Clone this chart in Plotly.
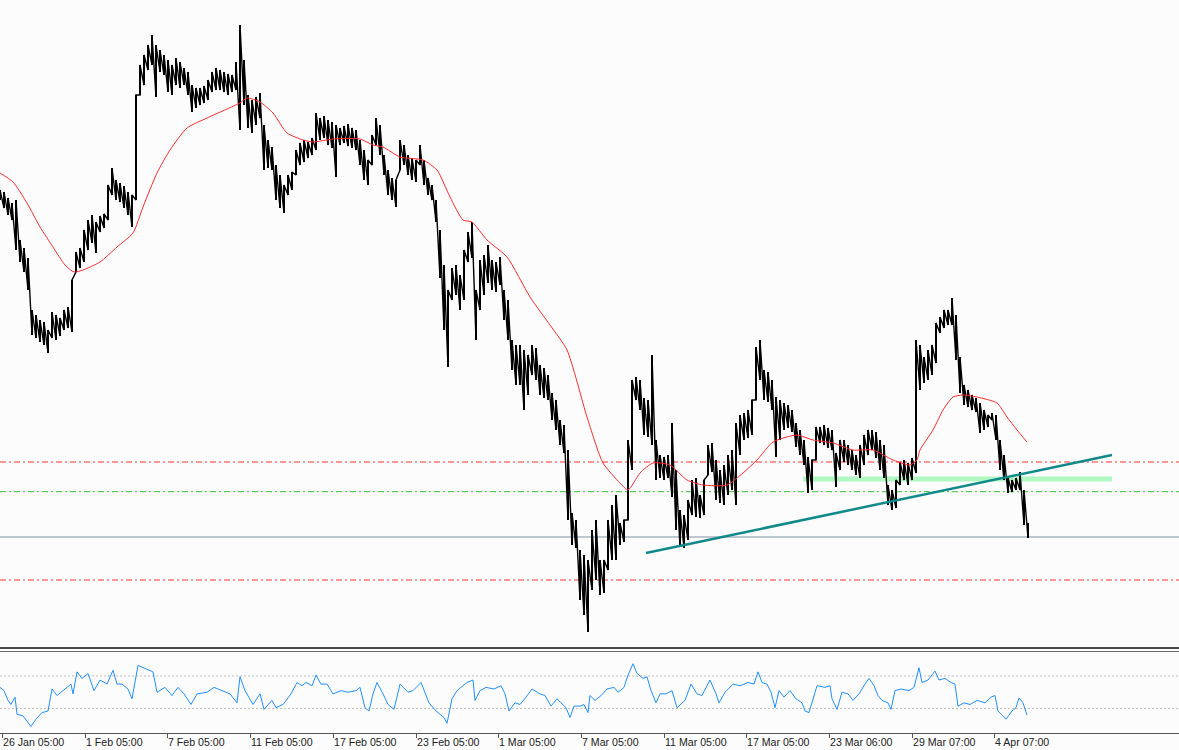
import plotly.graph_objects as go

# ---------------- data ----------------
tick_pos = [2, 85, 167, 250, 333, 416, 498, 581, 664, 746, 829, 912, 994]
tick_labels = ["26 Jan 05:00", "1 Feb 05:00", "7 Feb 05:00", "11 Feb 05:00",
               "17 Feb 05:00", "23 Feb 05:00", "1 Mar 05:00", "7 Mar 05:00",
               "11 Mar 05:00", "17 Mar 05:00", "23 Mar 06:00", "29 Mar 07:00",
               "4 Apr 07:00"]

highs = [810, 808, 802, 797, 800, 760, 752, 742, 690, 685, 680, 678, 670, 688, 685, 682, 690, 693, 720, 748,
         752, 770, 780, 785, 778, 784, 786, 815, 832, 820, 817, 814, 808, 805, 905, 935, 945, 955, 965, 955,
         950, 945, 940, 935, 942, 938, 932, 928, 915, 912, 912, 914, 920, 928, 932, 930, 928, 926, 925, 938,
         975, 940, 905, 900, 903, 907, 875, 860, 853, 835, 825, 815, 825, 828, 850, 857, 860, 858, 862, 887,
         882, 884, 880, 878, 875, 872, 874, 876, 872, 870, 860, 850, 840, 865, 882, 875, 845, 830, 822, 820,
         860, 855, 845, 842, 840, 855, 840, 822, 815, 800, 770, 735, 710, 732, 735, 725, 750, 768, 778, 710,
         740, 745, 755, 740, 738, 743, 710, 700, 660, 655, 655, 650, 645, 655, 652, 635, 632, 625, 607, 600,
         580, 575, 550, 487, 480, 450, 445, 440, 470, 480, 440, 440, 480, 495, 505, 477, 480, 560, 620, 623,
         620, 602, 600, 645, 560, 545, 543, 545, 577, 530, 490, 485, 500, 520, 522, 505, 520, 555, 557, 540,
         530, 535, 545, 550, 577, 585, 587, 590, 600, 653, 660, 630, 628, 620, 603, 600, 597, 595, 590, 577,
         570, 560, 543, 540, 573, 573, 575, 572, 570, 547, 560, 560, 555, 550, 545, 555, 565, 570, 570, 568,
         560, 555, 515, 510, 520, 538, 540, 537, 542, 660, 655, 643, 650, 655, 677, 683, 690, 690, 702, 685,
         643, 615, 610, 605, 602, 597, 590, 585, 587, 585, 560, 545, 522, 520, 522, 528, 510, 477]
lows = [800, 792, 785, 780, 750, 738, 728, 710, 665, 662, 658, 655, 647, 662, 660, 664, 670, 672, 668, 728,
        732, 738, 750, 757, 747, 768, 772, 780, 805, 800, 798, 792, 785, 773, 800, 905, 915, 930, 935, 903,
        928, 925, 908, 905, 915, 912, 915, 905, 888, 892, 895, 897, 900, 908, 910, 910, 908, 905, 908, 910,
        870, 895, 872, 867, 875, 882, 830, 832, 830, 800, 792, 787, 805, 810, 825, 835, 838, 842, 845, 850,
        860, 862, 855, 852, 823, 855, 857, 854, 852, 850, 835, 820, 815, 835, 855, 845, 825, 805, 800, 793,
        830, 835, 825, 820, 818, 835, 815, 805, 800, 778, 722, 670, 633, 700, 705, 690, 700, 738, 742, 660,
        690, 705, 717, 710, 708, 715, 680, 660, 630, 615, 615, 590, 605, 625, 620, 605, 602, 600, 580, 570,
        555, 547, 480, 455, 452, 400, 385, 368, 410, 420, 405, 407, 430, 440, 440, 455, 458, 480, 530, 600,
        590, 565, 563, 555, 520, 522, 520, 522, 503, 470, 453, 452, 460, 485, 483, 482, 485, 525, 528, 500,
        497, 495, 505, 510, 495, 545, 560, 562, 565, 600, 620, 600, 598, 590, 543, 560, 570, 572, 568, 553,
        545, 535, 507, 510, 540, 557, 555, 552, 550, 513, 530, 538, 535, 530, 525, 522, 535, 545, 550, 542,
        530, 522, 495, 490, 492, 515, 520, 515, 520, 527, 610, 617, 620, 625, 637, 667, 672, 675, 675, 640,
        607, 595, 593, 590, 588, 567, 570, 573, 580, 560, 530, 520, 507, 508, 510, 510, 475, 462]

ma_x = [0, 13, 27, 40, 53, 65, 74, 83, 100, 117, 133, 143, 157, 170, 187, 207, 227, 240, 247, 260,
        273, 287, 303, 313, 333, 360, 373, 383, 400, 423, 437, 450, 463, 472, 487, 507, 530, 550, 567, 587,
        603, 620, 628, 640, 653, 670, 687, 703, 727, 743, 757, 773, 797, 813, 833, 853, 873, 893, 910, 917,
        920, 933, 943, 953, 963, 977, 997, 1007, 1017, 1027]
ma_p = [827, 818, 797, 773, 753, 735, 728, 730, 738, 753, 767, 793, 827, 850, 872, 882, 891, 897, 902, 898,
        887, 867, 860, 858, 861, 861, 855, 853, 843, 840, 830, 803, 780, 778, 760, 743, 703, 675, 650, 583,
        537, 517, 510, 527, 537, 535, 520, 515, 515, 527, 540, 558, 565, 560, 557, 550, 550, 540, 535, 540,
        550, 570, 590, 603, 605, 603, 597, 583, 570, 558]

rsi_x = [0, 4, 8, 11, 15, 17, 23, 31, 36, 42, 48, 52, 57, 63, 71, 73, 77, 82, 88, 94,
         100, 107, 113, 117, 122, 128, 132, 138, 145, 153, 157, 165, 172, 178, 184, 191, 197, 207, 214, 222,
         230, 237, 240, 245, 253, 260, 264, 272, 276, 283, 291, 297, 302, 306, 312, 316, 321, 327, 333, 341,
         348, 356, 360, 365, 369, 373, 377, 383, 388, 394, 400, 408, 413, 421, 429, 436, 444, 447, 452, 457,
         467, 473, 475, 480, 486, 494, 501, 505, 509, 515, 520, 526, 532, 540, 545, 551, 557, 561, 566, 570,
         574, 580, 584, 588, 590, 595, 601, 607, 614, 618, 624, 628, 633, 637, 643, 647, 651, 656, 660, 666,
         672, 677, 681, 685, 691, 697, 702, 710, 716, 719, 725, 733, 740, 748, 754, 758, 762, 767, 771, 775,
         779, 784, 790, 796, 802, 805, 809, 817, 825, 830, 832, 837, 842, 848, 853, 859, 865, 869, 874, 878,
         882, 888, 891, 895, 901, 909, 914, 919, 922, 928, 935, 939, 945, 951, 955, 958, 964, 970, 977, 985,
         991, 995, 998, 1006, 1012, 1016, 1019, 1023, 1027]
rsi_v = [56, 52, 40, 35, 44, 23, 21, 8, 17, 25, 27, 54, 46, 52, 60, 48, 75, 67, 73, 52,
         65, 60, 77, 60, 60, 54, 42, 83, 79, 75, 50, 56, 46, 56, 48, 35, 48, 50, 56, 52,
         48, 37, 69, 52, 35, 48, 29, 40, 31, 35, 48, 62, 58, 62, 58, 71, 60, 60, 48, 52,
         50, 52, 56, 31, 27, 48, 62, 48, 35, 29, 60, 50, 52, 62, 37, 27, 19, 12, 42, 52,
         62, 65, 40, 52, 56, 54, 58, 48, 27, 37, 35, 44, 54, 48, 46, 33, 42, 37, 31, 19,
         33, 33, 35, 25, 46, 40, 46, 54, 56, 50, 56, 71, 85, 73, 67, 69, 52, 37, 48, 48,
         52, 31, 35, 40, 60, 48, 46, 65, 48, 37, 50, 60, 58, 62, 60, 75, 62, 60, 50, 31,
         52, 44, 52, 42, 37, 27, 25, 58, 56, 58, 42, 29, 50, 48, 40, 48, 60, 67, 58, 46,
         40, 37, 29, 52, 54, 52, 56, 80, 62, 65, 76, 65, 67, 62, 60, 33, 37, 35, 40, 37,
         44, 46, 27, 17, 27, 31, 43, 37, 22]

level_red_upper = 538
level_green = 508.3
level_gray = 463
level_red_lower = 420
band_x = [803, 1112]
band_p = 521
trend_x = [646, 1112]
trend_p = [447, 545]

# ---------------- figure ----------------
H_PLOT = 733.0
def py(px):
    return (H_PLOT - px) / H_PLOT

fig = go.Figure()

bar_x = [4 * i for i in range(len(highs))]
fig.add_trace(go.Bar(
    x=bar_x, base=lows, y=[h - l for h, l in zip(highs, lows)], width=2.4,
    marker=dict(color="#000000", line=dict(width=0)),
    xaxis="x", yaxis="y", hoverinfo="skip"))
zx, zy = [], []
for bx, h, l in zip(bar_x, highs, lows):
    zx += [bx, bx]
    zy += [l, h]
fig.add_trace(go.Scatter(
    x=zx, y=zy, mode="lines", line=dict(color="#000000", width=1.4),
    xaxis="x", yaxis="y", hoverinfo="skip"))

fig.add_trace(go.Scatter(
    x=ma_x, y=ma_p, mode="lines",
    line=dict(color="#FF2A2A", width=1, shape="spline", smoothing=0.6),
    xaxis="x", yaxis="y", hoverinfo="skip"))

fig.add_trace(go.Scatter(
    x=rsi_x, y=rsi_v, mode="lines",
    line=dict(color="#1E90FF", width=1),
    xaxis="x2", yaxis="y2", hoverinfo="skip"))

shapes = []
dd = "6px,3px,2px,3px"
shapes.append(dict(type="line", xref="paper", yref="y", x0=0, x1=1, y0=level_red_upper, y1=level_red_upper,
                   line=dict(color="#FF3030", width=1.2, dash=dd), layer="below"))
shapes.append(dict(type="line", xref="paper", yref="y", x0=0, x1=1, y0=level_green, y1=level_green,
                   line=dict(color="#5CCB5C", width=1.2, dash=dd), layer="below"))
shapes.append(dict(type="line", xref="paper", yref="y", x0=0, x1=1, y0=level_gray, y1=level_gray,
                   line=dict(color="#8090A0", width=1), layer="below"))
shapes.append(dict(type="line", xref="paper", yref="y", x0=0, x1=1, y0=level_red_lower, y1=level_red_lower,
                   line=dict(color="#FF3030", width=1.2, dash=dd), layer="below"))
shapes.append(dict(type="line", xref="x", yref="y", x0=band_x[0], x1=band_x[1], y0=band_p, y1=band_p,
                   line=dict(color="#B0F7C2", width=5), layer="below"))
shapes.append(dict(type="line", xref="x", yref="y", x0=trend_x[0], x1=trend_x[1], y0=trend_p[0], y1=trend_p[1],
                   line=dict(color="#10898B", width=2.5), layer="above"))
for lv in (70, 30):
    shapes.append(dict(type="line", xref="paper", yref="y2", x0=0, x1=1, y0=lv, y1=lv,
                       line=dict(color="#BDBDBD", width=1, dash="2px,2px"), layer="below"))
shapes.append(dict(type="line", xref="paper", yref="paper", x0=0, x1=1, y0=py(648), y1=py(648),
                   line=dict(color="#4A4A4A", width=2)))
shapes.append(dict(type="line", xref="paper", yref="paper", x0=0, x1=1, y0=py(651.5), y1=py(651.5),
                   line=dict(color="#6A6A6A", width=1)))

annotations = []
for tp, tl in zip(tick_pos, tick_labels):
    annotations.append(dict(x=tp, xref="x2", y=py(742), yref="paper", text=tl, showarrow=False,
                            xanchor="left", yanchor="middle", xshift=-1,
                            font=dict(family="Liberation Sans, Arial", size=10.6, color="#222222")))

fig.update_layout(
    width=1179, height=750,
    margin=dict(l=0, r=0, t=0, b=17, pad=0),
    paper_bgcolor="#FCFCFC", plot_bgcolor="#FCFCFC",
    showlegend=False,
    bargap=0,
    xaxis=dict(domain=[0, 1], range=[0, 1179], anchor="y", visible=False, fixedrange=True),
    yaxis=dict(domain=[py(647), 1], range=[353, 1000], visible=False, fixedrange=True),
    xaxis2=dict(domain=[0, 1], range=[0, 1179], anchor="y2", showgrid=False, zeroline=False,
                showline=True, linecolor="#555555", linewidth=1, ticks="outside", ticklen=4,
                tickcolor="#555555", tickvals=tick_pos, showticklabels=False, fixedrange=True),
    yaxis2=dict(domain=[0, py(651.5)], range=[0, 100], visible=False, fixedrange=True),
    shapes=shapes,
    annotations=annotations,
)

fig.write_html("out.html")
